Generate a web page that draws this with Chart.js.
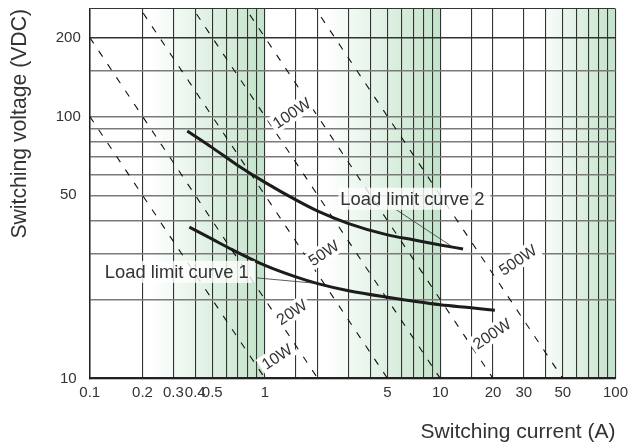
<!DOCTYPE html>
<html>
<head>
<meta charset="utf-8">
<script src="https://cdn.jsdelivr.net/npm/chart.js@4"></script>
<style>
  body { margin: 0; background: #fff; }
  #wrap { width: 633px; height: 447px; }
</style>
</head>
<body>
<div id="wrap"><canvas id="myChart"></canvas></div>
<script>
// axis ticks that get a label
const currentTicks = [0.1, 0.2, 0.3, 0.4, 0.5, 1, 5, 10, 20, 30, 50, 100];
const voltageTicks = [10, 50, 100, 200];

// load limit curves (current A, voltage VDC)
const curve1I = [0.37, 0.5, 0.65, 1.0, 1.5, 2, 3, 5, 10, 15, 20.5];
const curve1V = [37.8, 34, 31, 27, 24.4, 23, 21.6, 20.4, 19.1, 18.6, 18.2];
const curve2I = [0.36, 0.5, 0.7, 1.0, 1.5, 2, 3, 5, 7, 10, 13.5];
const curve2V = [88, 76, 65, 56, 48, 43.5, 39, 35.3, 33.8, 32.3, 31.2];

// constant power lines, end points
const powerNames = ['10W', '20W', '50W', '100W', '200W', '500W'];
const powerLinesI = [[0.1, 1], [0.1, 2], [0.1, 5], [0.1, 10], [0.1, 20], [0.1, 50]];
const powerLinesV = [[100, 10], [200, 10], [500, 10], [1000, 10], [2000, 10], [5000, 10]];
const powerLabelI = [1.17, 1.42, 2.16, 1.42, 19.7, 27.7];
const powerLabelV = [12.1, 17.9, 30.1, 103, 14.8, 28.3];

// curve captions and their leader lines
const curveNames = ['Load limit curve 1', 'Load limit curve 2'];
const curveNameI = [0.1217, 2.69];
const curveNameV = [25.5, 48.5];
const leader1I = [0.89, 1.9];
const leader1V = [24.2, 23.1];
const leader2I = [5.62, 11.55];
const leader2V = [44, 32];

// green shaded bands
const bandFrom = [0.22, 2.2, 36];
const bandTo = [1, 10, 100];

function pts(xs, ys) {
    return xs.map((x, i) => ({x: x, y: ys[i]}));
}
function isTick(v, list) {
    return list.find(t => Math.abs(v / t - 1) < 1e-6);
}

const datasets = [];
powerLinesI.forEach((xs, i) => {
    datasets.push({
        data: pts(xs, powerLinesV[i]),
        borderColor: '#111',
        borderWidth: 1.1,
        borderDash: [7, 9],
        pointRadius: 0
    });
});
[[leader1I, leader1V], [leader2I, leader2V]].forEach(l => {
    datasets.push({data: pts(l[0], l[1]), borderColor: '#333', borderWidth: 0.8, pointRadius: 0});
});
[[curve1I, curve1V], [curve2I, curve2V]].forEach(c => {
    datasets.push({
        data: pts(c[0], c[1]),
        borderColor: '#1c1c1c',
        borderWidth: 3,
        pointRadius: 0,
        cubicInterpolationMode: 'monotone'
    });
});

const bands = {
    id: 'bands',
    beforeDraw(chart) {
        const ctx = chart.ctx, x = chart.scales.x, a = chart.chartArea;
        bandFrom.forEach((f, i) => {
            const x0 = x.getPixelForValue(f), x1 = x.getPixelForValue(bandTo[i]);
            const g = ctx.createLinearGradient(x0, 0, x1, 0);
            g.addColorStop(0, 'rgba(194,227,201,0)');
            g.addColorStop(1, 'rgba(194,227,201,1)');
            ctx.fillStyle = g;
            ctx.fillRect(x0, a.top, x1 - x0, a.bottom - a.top);
        });
    }
};

const tags = {
    id: 'tags',
    afterDatasetsDraw(chart) {
        const ctx = chart.ctx, x = chart.scales.x, y = chart.scales.y;
        const dx = x.getPixelForValue(1) - x.getPixelForValue(0.1);
        const dy = y.getPixelForValue(10) - y.getPixelForValue(100);
        const angle = -Math.atan(dx / dy);
        ctx.save();
        ctx.font = '16px "Liberation Sans", Arial, sans-serif';
        ctx.textAlign = 'center';
        ctx.textBaseline = 'middle';
        powerNames.forEach((name, i) => {
            const w = ctx.measureText(name).width;
            ctx.save();
            ctx.translate(x.getPixelForValue(powerLabelI[i]), y.getPixelForValue(powerLabelV[i]));
            ctx.rotate(angle);
            ctx.fillStyle = '#fff';
            ctx.fillRect(-w / 2 - 3, -9, w + 6, 18);
            ctx.fillStyle = '#333';
            ctx.fillText(name, 0, 1);
            ctx.restore();
        });
        ctx.font = '18.4px "Liberation Sans", Arial, sans-serif';
        ctx.textAlign = 'left';
        curveNames.forEach((name, i) => {
            const px = x.getPixelForValue(curveNameI[i]), py = y.getPixelForValue(curveNameV[i]);
            const w = ctx.measureText(name).width;
            ctx.fillStyle = 'rgba(255,255,255,0.8)';
            ctx.fillRect(px - 2, py - 11, w + 8, 22);
            ctx.fillStyle = '#333';
            ctx.fillText(name, px, py + 1);
        });
        ctx.restore();
    }
};

const ctx = document.getElementById('myChart').getContext('2d');
new Chart(ctx, {
    type: 'line',
    data: {datasets: datasets},
    plugins: [bands, tags],
    options: {
        responsive: true,
        maintainAspectRatio: false,
        animation: false,
        devicePixelRatio: 1,
        layout: {padding: {top: 9, right: 16, left: 0, bottom: 0}},
        plugins: {legend: {display: false}, tooltip: {enabled: false}},
        scales: {
            x: {
                type: 'logarithmic',
                min: 0.1,
                max: 100,
                border: {color: '#222', width: 2},
                grid: {color: '#333', lineWidth: 1.1, drawTicks: false},
                ticks: {
                    autoSkip: false,
                    maxRotation: 0,
                    padding: 5,
                    color: '#333',
                    font: {family: '"Liberation Sans", Arial, sans-serif', size: 15},
                    callback: function(value) {
                        const t = isTick(value, currentTicks);
                        return t === undefined ? '' : String(t);
                    }
                },
                title: {
                    display: true,
                    text: 'Switching current (A)',
                    align: 'end',
                    color: '#333',
                    font: {family: '"Liberation Sans", Arial, sans-serif', size: 21},
                    padding: {top: 13, bottom: 2.4}
                }
            },
            y: {
                type: 'logarithmic',
                min: 10,
                max: 257,
                afterFit: function(scale) {
                    scale.paddingTop = 0;
                    scale.paddingBottom = 0;
                },
                border: {color: '#222', width: 1.5},
                grid: {
                    drawTicks: false,
                    color: function(c) {
                        const v = c.tick ? c.tick.value : 0;
                        return (v === 200 || v > 250) ? '#333' : '#7a7a7a';
                    },
                    lineWidth: function(c) {
                        const v = c.tick ? c.tick.value : 0;
                        return v > 250 ? 1.1 : 1.5;
                    }
                },
                ticks: {
                    autoSkip: false,
                    padding: 9,
                    crossAlign: 'center',
                    color: '#333',
                    font: {family: '"Liberation Sans", Arial, sans-serif', size: 15},
                    callback: function(value) {
                        const t = isTick(value, voltageTicks);
                        return t === undefined ? '' : String(t);
                    }
                },
                title: {
                    display: true,
                    text: 'Switching voltage (VDC)',
                    align: 'end',
                    color: '#333',
                    font: {family: '"Liberation Sans", Arial, sans-serif', size: 21.2},
                    padding: {top: 7, bottom: 14.3}
                }
            }
        }
    }
});
</script>
</body>
</html>
